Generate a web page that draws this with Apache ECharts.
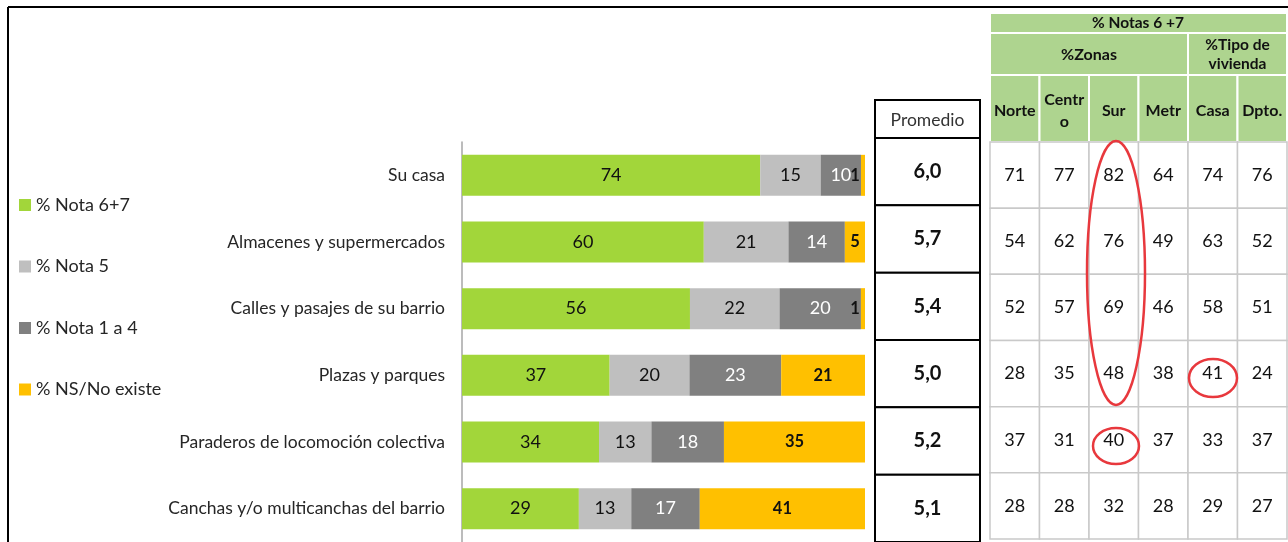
<!DOCTYPE html>
<html>
<head>
<meta charset="utf-8">
<script src="https://cdn.jsdelivr.net/npm/echarts@6/dist/echarts.min.js"></script>
<style>html,body{margin:0;padding:0;background:#fff;}#c{width:1288px;height:542px;}</style>
</head>
<body>
<div id="c"></div>
<script>
// ---- data ----
const categories = ['Su casa','Almacenes y supermercados','Calles y pasajes de su barrio','Plazas y parques','Paraderos de locomoción colectiva','Canchas y/o multicanchas del barrio'];
const seriesNames = ['% Nota 6+7','% Nota 5','% Nota 1 a 4','% NS/No existe'];
const nota67 = [74,60,56,37,34,29];
const nota5 = [15,21,22,20,13,13];
const nota14 = [10,14,20,23,18,17];
const nsNoExiste = [1,5,1,21,35,41];
const promedio = [6.0,5.7,5.4,5.0,5.2,5.1];
const zoneCols = ['Norte','Centr\no','Sur','Metr','Casa','Dpto.'];
const norte = [71,54,52,28,37,28];
const centro = [77,62,57,35,31,28];
const sur = [82,76,69,48,40,32];
const metr = [64,49,46,38,37,28];
const casa = [74,63,58,41,33,29];
const dpto = [76,52,51,24,37,27];
const headerTop = '% Notas 6 +7';
const headerZonas = '%Zonas';
const headerTipo = '%Tipo de\nvivienda';
const headerProm = 'Promedio';

const FONT = 'Lato';
const raw = [nota67, nota5, nota14, nsNoExiste];
const totals = categories.map((c,i)=>raw.reduce((s,a)=>s+a[i],0));
const colors = ['#A2D63A','#BFBFBF','#808080','#FFC000'];
const labelStyles = [
  {color:'#111', fontSize:18},
  {color:'#111', fontSize:18},
  {color:'#fff', fontSize:18},
  {color:'#111', fontSize:16.5, fontWeight:'bold'}
];

const barSeries = raw.map((arr, si) => ({
  name: seriesNames[si],
  type: 'bar',
  stack: 'total',
  xAxisIndex: 0, yAxisIndex: 0,
  barWidth: 41,
  itemStyle: {color: colors[si]},
  label: Object.assign({show:true, position:'inside', fontFamily:FONT,
    formatter: p => String(arr[p.dataIndex])}, labelStyles[si]),
  emphasis: {disabled:true},
  data: arr.map((v,i) => {
    const item = {value: v / totals[i] * 100};
    if (si === 3 && v <= 2) item.label = {offset:[-8,0]};
    return item;
  })
}));

const zoneArrays = [norte, centro, sur, metr, casa, dpto];
const zoneData = [];
zoneArrays.forEach((arr, ci) => arr.forEach((v, ri) => zoneData.push([ci, ri, v])));
const promData = promedio.map((v,i)=>[0,i,v]);

function cellRenderer(stroke, lw, fontWeight, fontSize, fmt) {
  return function(params, api) {
    const p = api.coord([api.value(0), api.value(1)]);
    const s = api.size([1,1]);
    return {type:'group', children:[
      {type:'rect', shape:{x:p[0]-s[0]/2, y:p[1]-s[1]/2, width:s[0], height:s[1]},
       style:{fill:'#fff', stroke:stroke, lineWidth:lw}},
      {type:'text', x:p[0], y:p[1], style:{text:fmt(api.value(2)), align:'center', verticalAlign:'middle',
        fontFamily:FONT, fontSize:fontSize, fontWeight:fontWeight, fill:'#111'}}
    ]};
  };
}

const GREEN = '#AED48F';
const colW = 297/6;
const headerGraphics = [];
headerGraphics.push({type:'rect', z:1, shape:{x:990,y:13,width:297,height:20}, style:{fill:GREEN, stroke:'#fff', lineWidth:2}});
headerGraphics.push({type:'text', z:2, x:1138, y:23, style:{text:headerTop, align:'center', verticalAlign:'middle', fontFamily:FONT, fontSize:15.5, fontWeight:'bold', fill:'#111'}});
headerGraphics.push({type:'rect', z:1, shape:{x:990,y:33,width:colW*4,height:42}, style:{fill:GREEN, stroke:'#fff', lineWidth:2}});
headerGraphics.push({type:'rect', z:1, shape:{x:990+colW*4,y:33,width:colW*2,height:42}, style:{fill:GREEN, stroke:'#fff', lineWidth:2}});
headerGraphics.push({type:'text', z:2, x:990+colW*2, y:55, style:{text:headerZonas, align:'center', verticalAlign:'middle', fontFamily:FONT, fontSize:16, fontWeight:'bold', fill:'#111'}});
headerGraphics.push({type:'text', z:2, x:990+colW*5, y:54, style:{text:headerTipo, align:'center', verticalAlign:'middle', lineHeight:19, fontFamily:FONT, fontSize:15.5, fontWeight:'bold', fill:'#111'}});
for (let i=0;i<6;i++) {
  headerGraphics.push({type:'rect', z:1, shape:{x:990+colW*i,y:75,width:colW,height:67}, style:{fill:GREEN, stroke:'#fff', lineWidth:2}});
}

const option = {
  animation: false,
  backgroundColor: '#fff',
  textStyle: {fontFamily: FONT},
  legend: {
    orient: 'vertical', left: 19, top: 195, padding: 0,
    itemWidth: 12, itemHeight: 12, itemGap: 41.5, icon: 'rect',
    selectedMode: false,
    textStyle: {fontSize: 18, color: '#262626', lineHeight: 20, fontFamily: FONT},
    data: seriesNames
  },
  grid: [
    {left:462, top:142, width:403, height:403},
    {left:875, top:138, width:105, height:407},
    {left:990, top:142, width:297, height:397}
  ],
  xAxis: [
    {gridIndex:0, type:'value', min:0, max:100, show:false},
    {gridIndex:1, type:'category', data:[headerProm], show:false},
    {gridIndex:2, type:'category', data:zoneCols, position:'top', z:10,
     axisLine:{show:false}, axisTick:{show:false}, splitLine:{show:false},
     axisLabel:{margin:31, verticalAlign:'middle', fontWeight:'bold', fontSize:16, lineHeight:22, color:'#111', fontFamily:FONT, interval:0}}
  ],
  yAxis: [
    {gridIndex:0, type:'category', data:categories, inverse:true,
     axisLine:{show:true, lineStyle:{color:'#A6A6A6', width:1.5}}, axisTick:{show:false},
     axisLabel:{margin:17, fontSize:17.5, color:'#262626', fontFamily:FONT}},
    {gridIndex:1, type:'category', data:categories, inverse:true, show:false},
    {gridIndex:2, type:'category', data:categories, inverse:true, show:false}
  ],
  series: barSeries.concat([
    {type:'custom', xAxisIndex:1, yAxisIndex:1, data:promData, encode:{x:0,y:1},
     renderItem: cellRenderer('#000', 2, 'bold', 20, v => v.toFixed(1).replace('.', ','))},
    {type:'custom', xAxisIndex:2, yAxisIndex:2, data:zoneData, encode:{x:0,y:1},
     renderItem: cellRenderer('#C9C9C9', 1.5, 'normal', 18, v => String(v))}
  ]),
  graphic: [
    {type:'line', z:50, shape:{x1:8,y1:7,x2:1288,y2:7}, style:{stroke:'#000', lineWidth:2}},
    {type:'line', z:50, shape:{x1:8,y1:7,x2:8,y2:542}, style:{stroke:'#000', lineWidth:2}},
    {type:'rect', z:1, shape:{x:875,y:100,width:105,height:38}, style:{fill:'#fff', stroke:'#000', lineWidth:2}},
    {type:'text', z:2, x:927.5, y:120, style:{text:headerProm, align:'center', verticalAlign:'middle', fontFamily:FONT, fontSize:17.5, fill:'#333'}},
    {type:'ellipse', z:100, shape:{cx:1116, cy:273, rx:29, ry:132}, style:{fill:null, stroke:'#E8383D', lineWidth:2.5}},
    {type:'ellipse', z:100, shape:{cx:1213, cy:378, rx:24, ry:19}, style:{fill:null, stroke:'#E8383D', lineWidth:2.5}},
    {type:'ellipse', z:100, shape:{cx:1116, cy:446, rx:23, ry:18}, style:{fill:null, stroke:'#E8383D', lineWidth:2.5}}
  ].concat(headerGraphics)
};

const chart = echarts.init(document.getElementById('c'), null, {renderer:'canvas', width:1288, height:542});
chart.setOption(option);
</script>
</body>
</html>
